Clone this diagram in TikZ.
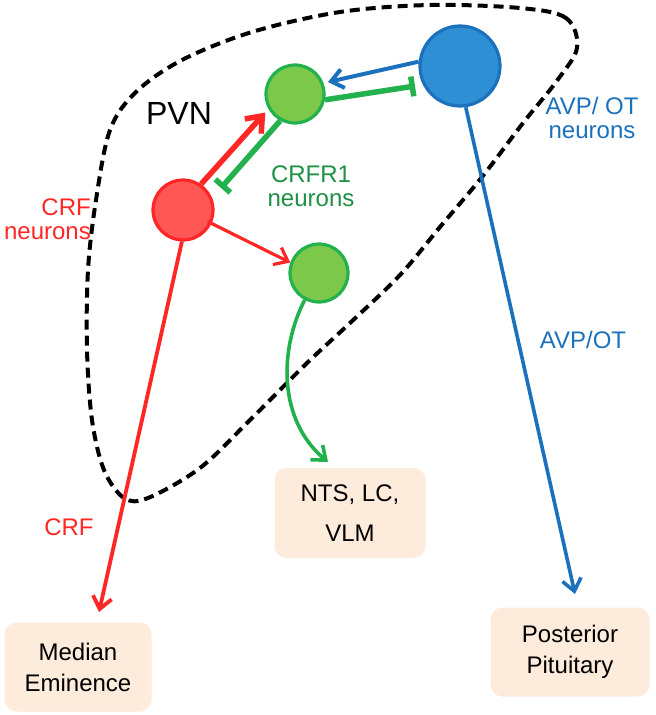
\documentclass[tikz,border=0pt]{standalone}
\usepackage{fontspec}
\setmainfont{Liberation Sans}
\usetikzlibrary{arrows.meta,calc}
\definecolor{cred}{HTML}{FF2626}
\definecolor{credfill}{HTML}{FF5656}
\definecolor{cgreen}{HTML}{22B14C}
\definecolor{cgreenfill}{HTML}{7CC84A}
\definecolor{cgreentext}{HTML}{1E8F45}
\definecolor{cblue}{HTML}{1C71BC}
\definecolor{cbluefill}{HTML}{2F8FD5}
\definecolor{boxfill}{HTML}{FDEBDB}
\begin{document}
\begin{tikzpicture}[x=1pt,y=-1pt,
  neuron/.style={circle,inner sep=0pt,line width=3.2pt},
  redneuron/.style={neuron,draw=cred,fill=credfill,minimum size=60pt},
  greenneuron/.style={neuron,draw=cgreen,fill=cgreenfill,minimum size=58pt},
  blueneuron/.style={neuron,draw=cblue,fill=cbluefill,minimum size=80pt},
  target/.style={rounded corners=12pt,fill=boxfill,inner sep=0pt,align=center,font=\fontsize{24}{31}\selectfont},
  lbl/.style={inner sep=0pt,font=\fontsize{24}{24}\selectfont},
  outline/.style={draw=black,line width=4pt,dash pattern=on 10pt off 6pt},
  barbbig/.style={-{Straight Barb[length=14pt,width=22pt]}},
  barb/.style={-{Straight Barb[length=12pt,width=19pt]}},
  tbar/.style={-{Bar[width=20pt]}}
]
\useasboundingbox (0,0) rectangle (656,715);

% PVN outline
\draw[outline] plot[smooth cycle,tension=0.55] coordinates {
 (577,48) (566,18) (520,8) (430,5) (340,12) (252,32) (182,60) (136,92)
 (110,130) (96,200) (88,270) (87,350) (92,420) (104,470) (124,498) (148,498)
 (200,468) (250,420) (307,363) (350,323) (400,275) (440,227) (482,177)
 (523,123) (556,82)};

% neurons
\node[redneuron] (crf) at (183,210) {};
\node[greenneuron] (g1) at (295,94) {};
\node[greenneuron] (g2) at (319,273) {};
\node[blueneuron] (avp) at (460,66) {};

% targets
\node[target,minimum width=151pt,minimum height=90pt] (nts) at (350,513) {NTS, LC,\\[9pt]VLM};
\node[target,minimum width=147pt,minimum height=89pt] (me) at (78,667) {Median\\Eminence};
\node[target,minimum width=159pt,minimum height=89pt] (pp) at (570,652) {Posterior\\Pituitary};

% labels
\node[font=\fontsize{32}{34}\selectfont,inner sep=0pt] (pvn) at (179,113) {PVN};
\node[lbl,text=cred,align=right,anchor=east] (crfl) at (91,219) {CRF\\neurons};
\node[lbl,text=cgreentext,align=center] (crfr1l) at (311,186) {CRFR1\\neurons};
\node[lbl,text=cblue,align=center] (avpl) at (592,118) {AVP/ OT\\neurons};
\node[lbl,text=cblue] (avpot) at (583,340) {AVP/OT};
\node[lbl,text=cred] (crfax) at (69,527) {CRF};

% free ends
\coordinate (tb1) at (221,188);
\coordinate (tb2) at (415,86);
\coordinate (metip) at (99,612);
\coordinate (ntstip) at (328,462);
\coordinate (pptip) at (575,594);

% connectors
\draw[cred,line width=5.5pt,barbbig] (crf.55) -- ($(g1)!35pt!(g1.212)$);
\draw[cgreen,line width=5.5pt,tbar] (g1.241) -- (tb1);
\draw[cblue,line width=4pt,barb] (avp.174) -- ($(g1)!35pt!(g1.20)$);
\draw[cgreen,line width=5.5pt,tbar] (g1.-11) -- (tb2);
\draw[cred,line width=3.2pt,barb] ($(crf)!27pt!(crf.-25)$) -- (g2.160);
\draw[cred,line width=3.8pt,barb] (crf.-92) -- (metip);
\draw[cgreen,line width=3.6pt,barb] (g2.-118) .. controls (279,350) and (278,420) .. (ntstip);
\draw[cblue,line width=3.6pt,barb] (avp.-82) -- (pptip);
\end{tikzpicture}
\end{document}
